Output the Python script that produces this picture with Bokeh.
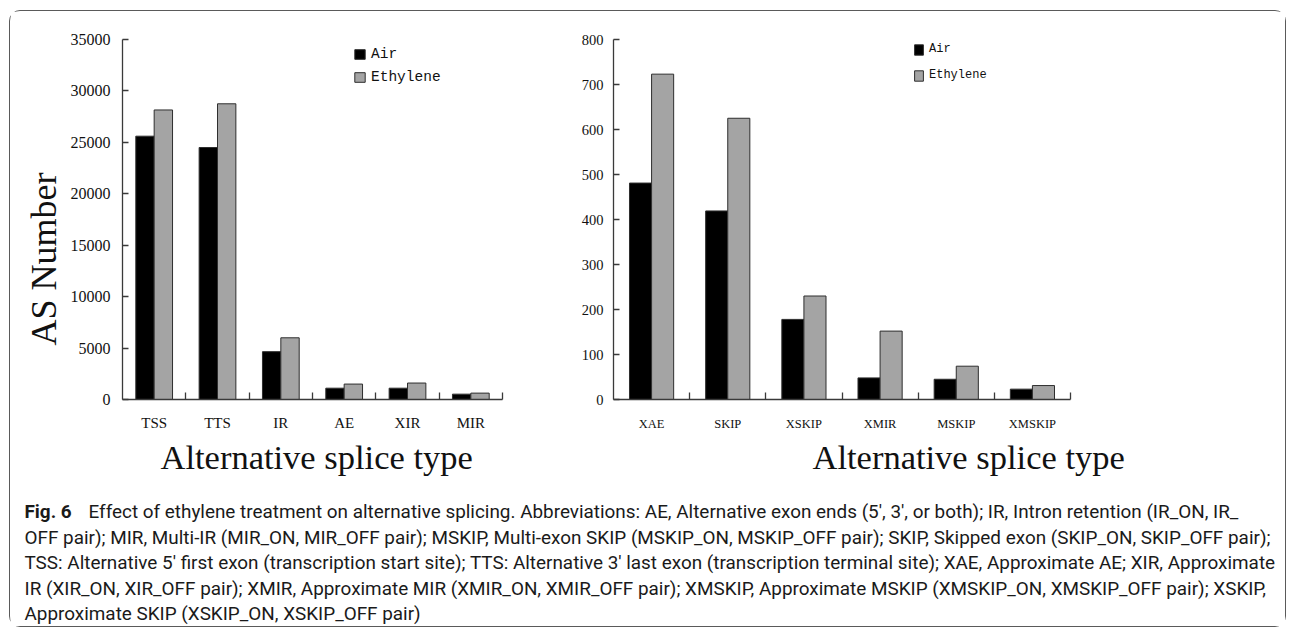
from bokeh.plotting import figure
from bokeh.models import (ColumnDataSource, FixedTicker, Range1d, Legend, LegendItem,
                          NumeralTickFormatter, Title)
from bokeh.layouts import column, row
from bokeh.transform import dodge
from bokeh.core.properties import value
from bokeh.embed import file_html
from bokeh.resources import INLINE

# ---- data -------------------------------------------------------------
left_types = ["TSS", "TTS", "IR", "AE", "XIR", "MIR"]
left_air = [25600, 24500, 4650, 1100, 1100, 520]
left_ethylene = [28150, 28750, 6000, 1500, 1600, 620]
left_yticks = [0, 5000, 10000, 15000, 20000, 25000, 30000, 35000]

right_types = ["XAE", "SKIP", "XSKIP", "XMIR", "MSKIP", "XMSKIP"]
right_air = [481, 419, 178, 48, 45, 23]
right_ethylene = [723, 625, 230, 152, 74, 31]
right_yticks = [0, 100, 200, 300, 400, 500, 600, 700, 800]

series_names = ["Air", "Ethylene"]
x_title = "Alternative splice type"
y_title = "AS Number"

caption_title = "Fig. 6"
caption_lines = [
    "Effect of ethylene treatment on alternative splicing. Abbreviations: AE, Alternative exon ends (5\u2032, 3\u2032, or both); IR, Intron retention (IR_ON, IR_",
    "OFF pair); MIR, Multi-IR (MIR_ON, MIR_OFF pair); MSKIP, Multi-exon SKIP (MSKIP_ON, MSKIP_OFF pair); SKIP, Skipped exon (SKIP_ON, SKIP_OFF pair);",
    "TSS: Alternative 5\u2032 first exon (transcription start site); TTS: Alternative 3\u2032 last exon (transcription terminal site); XAE, Approximate AE; XIR, Approximate",
    "IR (XIR_ON, XIR_OFF pair); XMIR, Approximate MIR (XMIR_ON, XMIR_OFF pair); XMSKIP, Approximate MSKIP (XMSKIP_ON, XMSKIP_OFF pair); XSKIP,",
    "Approximate SKIP (XSKIP_ON, XSKIP_OFF pair)",
]

# ---- styling ----------------------------------------------------------
AXIS_COLOR = "#3a3a3a"
TEXT_COLOR = "#111111"
AIR_COLOR = "#000000"
ETH_COLOR = "#a4a4a4"
BAR_EDGE = "#2e2e2e"
SERIF = "Liberation Serif"
MONO = "Liberation Mono"
CAPTION_FONT = "Roboto"
BAR_W = 0.29


def splice_panel(types, air, ethylene, yticks, width, borders, tick_size,
                 cat_size, cat_standoff, xtitle_offset, xtitle_standoff,
                 legend_loc, legend_size, glyph_w, glyph_h, legend_spacing,
                 with_ytitle=False):
    left, right, top, bottom = borders
    n = len(types)
    p = figure(width=width, height=474,
               x_range=Range1d(0.5, n + 0.5),
               y_range=Range1d(0, yticks[-1]),
               output_backend="svg", toolbar_location=None,
               min_border_left=left, min_border_right=right,
               min_border_top=top, min_border_bottom=bottom)
    p.outline_line_color = None
    p.grid.visible = False
    p.background_fill_color = "white"
    p.border_fill_color = "white"

    positions = list(range(1, n + 1))
    src = ColumnDataSource(dict(pos=positions, air=air, eth=ethylene))
    r_air = p.vbar(x=dodge("pos", -BAR_W / 2, range=p.x_range), top="air",
                   width=BAR_W, source=src, fill_color=AIR_COLOR,
                   line_color=BAR_EDGE, line_width=1)
    r_eth = p.vbar(x=dodge("pos", BAR_W / 2, range=p.x_range), top="eth",
                   width=BAR_W, source=src, fill_color=ETH_COLOR,
                   line_color=BAR_EDGE, line_width=1)

    # x axis: labels at category centres, short inward ticks between categories
    xa = p.xaxis[0]
    xa.ticker = FixedTicker(ticks=positions,
                            minor_ticks=[k + 0.5 for k in positions])
    xa.major_label_overrides = {k: t for k, t in zip(positions, types)}
    xa.major_tick_in = 0
    xa.major_tick_out = 0
    xa.minor_tick_in = 7
    xa.minor_tick_out = 0
    xa.minor_tick_line_color = AXIS_COLOR
    xa.minor_tick_line_width = 1.3
    xa.axis_line_color = AXIS_COLOR
    xa.axis_line_width = 1.3
    xa.major_label_text_font = SERIF
    xa.major_label_text_font_size = cat_size
    xa.major_label_text_color = TEXT_COLOR
    xa.major_label_standoff = cat_standoff

    ya = p.yaxis[0]
    ya.ticker = FixedTicker(ticks=yticks)
    ya.formatter = NumeralTickFormatter(format="0")
    ya.major_tick_in = 6
    ya.major_tick_out = 0
    ya.minor_tick_line_color = None
    ya.major_tick_line_color = AXIS_COLOR
    ya.major_tick_line_width = 1.3
    ya.axis_line_color = AXIS_COLOR
    ya.axis_line_width = 1.3
    ya.major_label_text_font = SERIF
    ya.major_label_text_font_size = tick_size
    ya.major_label_text_color = TEXT_COLOR
    ya.major_label_standoff = 12 if with_ytitle else 10

    # axis titles as side titles so they can sit off-centre
    p.add_layout(Title(text=x_title, align="left", offset=xtitle_offset,
                       standoff=xtitle_standoff, text_font=SERIF,
                       text_font_style="normal", text_font_size="34.5px",
                       text_color=TEXT_COLOR), "below")
    if with_ytitle:
        p.add_layout(Title(text=y_title, align="left", offset=54,
                           standoff=7, text_font=SERIF,
                           text_font_style="normal", text_font_size="36px",
                           text_color=TEXT_COLOR), "left")

    legend = Legend(items=[LegendItem(label=series_names[0], renderers=[r_air]),
                           LegendItem(label=series_names[1], renderers=[r_eth])],
                    location=legend_loc, orientation="vertical",
                    padding=0, margin=0, spacing=legend_spacing,
                    glyph_width=glyph_w, glyph_height=glyph_h,
                    label_height=glyph_h, label_standoff=5,
                    label_text_font=MONO, label_text_font_size=legend_size,
                    label_text_color=TEXT_COLOR, label_text_baseline="middle",
                    border_line_color=None, background_fill_alpha=0)
    p.add_layout(legend)
    return p


p_left = splice_panel(left_types, left_air, left_ethylene, left_yticks,
                      width=550, borders=(112, 58, 22, 86),
                      tick_size="16px", cat_size="15px", cat_standoff=15,
                      xtitle_offset=38, xtitle_standoff=4,
                      legend_loc=(231, 314), legend_size="14.5px",
                      glyph_w=13, glyph_h=12, legend_spacing=7,
                      with_ytitle=True)

p_right = splice_panel(right_types, right_air, right_ethylene, right_yticks,
                       width=725, borders=(53, 215, 28, 86),
                       tick_size="14.5px", cat_size="12.5px", cat_standoff=17,
                       xtitle_offset=199, xtitle_standoff=4,
                       legend_loc=(300, 317), legend_size="12px",
                       glyph_w=11, glyph_h=13, legend_spacing=12)

# ---- caption ------------------------------------------------------------
cap = figure(width=1275, height=141, x_range=Range1d(0, 1275),
             y_range=Range1d(141, 0), x_axis_type=None, y_axis_type=None,
             output_backend="svg", toolbar_location=None, min_border=0)
cap.outline_line_color = None
cap.grid.visible = False

baselines = [26 + 25.5 * k for k in range(len(caption_lines))]
cap.text(x=[14], y=[baselines[0]], text=[caption_title],
         text_font=value(CAPTION_FONT), text_font_style="bold",
         text_font_size="18.9px", text_baseline="alphabetic",
         text_color="#1a1a1a")
cap.text(x=[78] + [14] * (len(caption_lines) - 1), y=baselines,
         text=caption_lines, text_font=value(CAPTION_FONT),
         text_font_size="18.9px", text_baseline="alphabetic",
         text_color="#1a1a1a")

root = column(row(p_left, p_right, spacing=0), cap, spacing=0,
              margin=(11, 0, 0, 10),
              styles={"outline": "1.5px solid #5a5a5a",
                      "border-radius": "10px"})

open("out.html", "w").write(file_html(root, INLINE, title="Alternative splicing"))
